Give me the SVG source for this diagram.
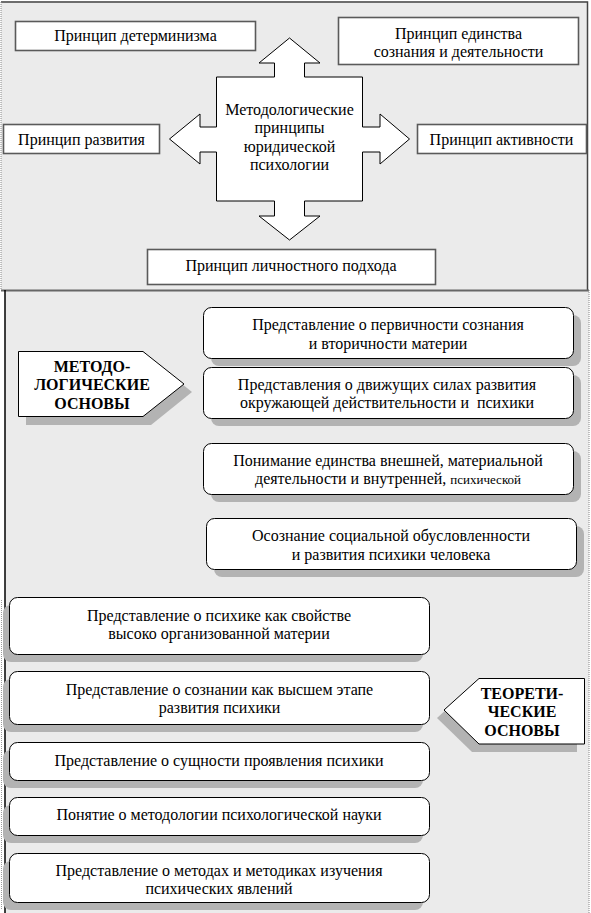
<svg xmlns="http://www.w3.org/2000/svg" width="591" height="913" viewBox="0 0 591 913">
<style>
text{font-family:"Liberation Serif","DejaVu Serif",serif;font-size:16px;fill:#000;text-anchor:middle}
.b{font-weight:bold}
.box{fill:#fff;stroke:#000;stroke-width:1}
.rbox{fill:#fff;stroke:#5a5a5a;stroke-width:1.6}
.sh{fill:#b3b3b3}
.panel{fill:#ebebeb}
</style>
<rect width="591" height="913" fill="#fff"/>
<!-- panels -->
<g id="panels">
<rect class="panel" x="1" y="1" width="587" height="289"/>
<path d="M1,2 H587.5 V290" fill="none" stroke="#444" stroke-width="1.5"/>
<line x1="1" y1="2" x2="1" y2="290" stroke="#888" stroke-width="1" stroke-dasharray="1,1"/>
<rect class="panel" x="5" y="290" width="584" height="623"/>
<line x1="1" y1="290.5" x2="589" y2="290.5" stroke="#666" stroke-width="2"/>
<line x1="5" y1="290" x2="5" y2="913" stroke="#000" stroke-width="1.5"/>
<line x1="589" y1="290" x2="589" y2="913" stroke="#888" stroke-width="1" stroke-dasharray="1,1"/>
<line x1="1.5" y1="600" x2="1.5" y2="910" stroke="#999" stroke-width="1" stroke-dasharray="1,1"/>
</g>
<!-- top principles -->
<g id="center">
<path class="box" d="M289.5,38 L320,63 L304.5,63 L304.5,77 L362.5,77 L362.5,127 L380,127 L380,114 L409.5,139 L380,164 L380,152 L362.5,152 L362.5,201 L304.5,201 L304.5,216 L320,216 L289.5,240 L259,216 L274.5,216 L274.5,201 L216.5,201 L216.5,152 L200,152 L200,164 L169.5,139 L200,114 L200,127 L216.5,127 L216.5,77 L274.5,77 L274.5,63 L259,63 Z"/>
<text x="289.5" y="114.5">Методологические</text>
<text x="289.5" y="133">принципы</text>
<text x="289.5" y="151.5">юридической</text>
<text x="289.5" y="170">психологии</text>
</g>
<g id="p-determinism">
<rect class="rbox" x="15.5" y="21.5" width="240" height="29"/>
<text x="135.5" y="41">Принцип детерминизма</text>
</g>
<g id="p-unity">
<rect class="rbox" x="338.5" y="17.5" width="240" height="47"/>
<text x="458.5" y="39">Принцип единства</text>
<text x="458.5" y="57">сознания и деятельности</text>
</g>
<g id="p-development">
<rect class="rbox" x="3.5" y="124.5" width="156" height="29"/>
<text x="81.5" y="144.5">Принцип развития</text>
</g>
<g id="p-activity">
<rect class="rbox" x="417.5" y="124.5" width="169" height="29"/>
<text x="501.5" y="144.5">Принцип активности</text>
</g>
<g id="p-personal">
<rect class="rbox" x="147.5" y="249.5" width="288" height="35"/>
<text x="291" y="271">Принцип личностного подхода</text>
</g>
<!-- methodological -->
<g id="metod">
<polygon class="sh" points="26,359 151,359 192,392 151,425 26,425"/>
<polygon class="box" points="18.5,351.5 143,351.5 184,384 143,416.5 18.5,416.5"/>
<text class="b" x="92" y="371.5">МЕТОДО-</text>
<text class="b" x="92" y="390">ЛОГИЧЕСКИЕ</text>
<text class="b" x="92" y="408.5">ОСНОВЫ</text>
</g>
<g id="m1">
<rect class="sh" x="211" y="315" width="370" height="51" rx="8"/>
<rect class="box" x="203.5" y="307.5" width="370" height="51" rx="8"/>
<text x="388" y="330">Представление о первичности сознания</text>
<text x="388" y="348.5">и вторичности материи</text>
</g>
<g id="m2">
<rect class="sh" x="211" y="375" width="370" height="51" rx="8"/>
<rect class="box" x="203.5" y="367.5" width="370" height="51" rx="8"/>
<text x="387" y="389.5">Представления о движущих силах развития</text>
<text x="387" y="408" xml:space="preserve">окружающей действительности и  психики</text>
</g>
<g id="m3">
<rect class="sh" x="211" y="451" width="370" height="51" rx="8"/>
<rect class="box" x="203.5" y="443.5" width="370" height="51" rx="8"/>
<text x="388" y="465.5">Понимание единства внешней, материальной</text>
<text x="388" y="484">деятельности и внутренней, <tspan style="font-size:13px">психической</tspan></text>
</g>
<g id="m4">
<rect class="sh" x="214" y="526" width="370" height="51" rx="8"/>
<rect class="box" x="206.5" y="518.5" width="370" height="51" rx="8"/>
<text x="391" y="540.5">Осознание социальной обусловленности</text>
<text x="391" y="559.5">и развития психики человека</text>
</g>
<!-- theoretical -->
<g id="teor">
<polygon class="sh" points="437,718 472,686 577,686 577,752 472,752"/>
<polygon class="box" points="444,710 479,678.5 584.5,678.5 584.5,744 479,744"/>
<text class="b" x="522" y="698.5">ТЕОРЕТИ-</text>
<text class="b" x="522" y="717">ЧЕСКИЕ</text>
<text class="b" x="522" y="735.5">ОСНОВЫ</text>
</g>
<g id="t1">
<rect class="sh" x="3" y="605" width="420" height="57" rx="8"/>
<rect class="box" x="9.5" y="597.5" width="420" height="57" rx="8"/>
<text x="219" y="620.5">Представление о психике как свойстве</text>
<text x="219" y="639">высоко организованной материи</text>
</g>
<g id="t2">
<rect class="sh" x="3" y="679" width="420" height="53" rx="8"/>
<rect class="box" x="9.5" y="671.5" width="420" height="53" rx="8"/>
<text x="219.5" y="694.5">Представление о сознании как высшем этапе</text>
<text x="219.5" y="713">развития психики</text>
</g>
<g id="t3">
<rect class="sh" x="3" y="750" width="420" height="38" rx="8"/>
<rect class="box" x="9.5" y="742.5" width="420" height="38" rx="8"/>
<text x="219" y="765.5">Представление о сущности проявления психики</text>
</g>
<g id="t4">
<rect class="sh" x="3" y="805" width="420" height="38" rx="8"/>
<rect class="box" x="9.5" y="797.5" width="420" height="38" rx="8"/>
<text x="219" y="819.5">Понятие о методологии психологической науки</text>
</g>
<g id="t5">
<rect class="sh" x="3" y="861" width="420" height="49" rx="8"/>
<rect class="box" x="9.5" y="853.5" width="420" height="49" rx="8"/>
<text x="219" y="876">Представление о методах и методиках изучения</text>
<text x="219" y="894">психических явлений</text>
</g>
<g id="connectors"/>
</svg>
